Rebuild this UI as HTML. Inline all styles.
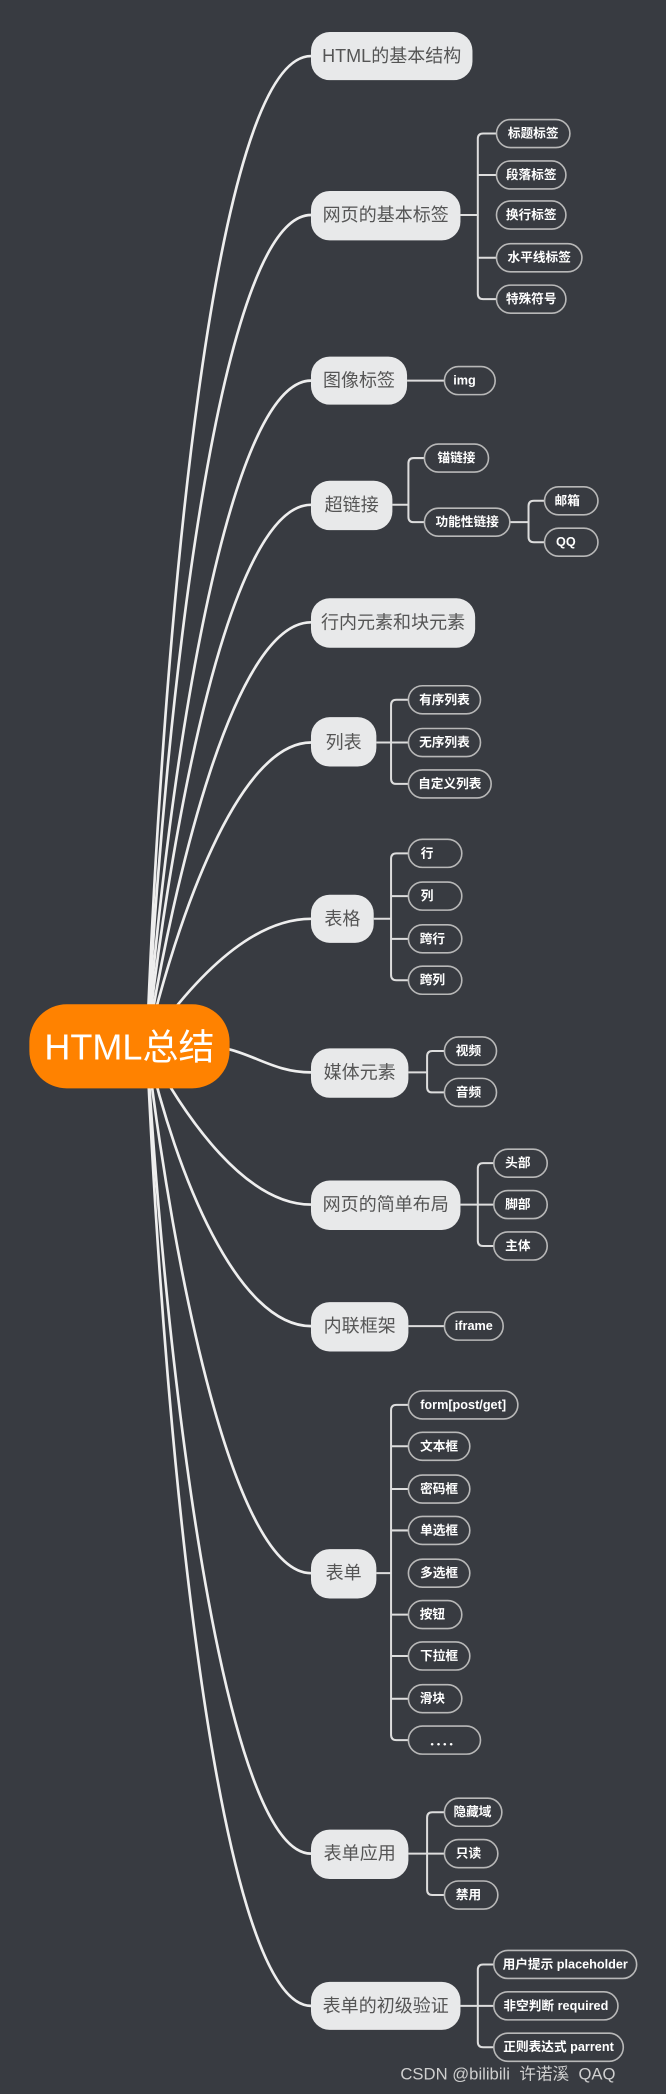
<!DOCTYPE html>
<html><head><meta charset="utf-8"><style>
html,body{margin:0;padding:0;background:#383b41;}
svg{display:block}
text{font-family:"Liberation Sans","Noto Sans CJK SC",sans-serif;}
.m{fill:#e8e9ea}
.mt{fill:#555;font-size:13.5px}
.s{fill:#383b41;stroke:#b8b8b8;stroke-width:1.2}
.st{fill:#fff;font-size:9.5px;font-weight:bold}
.c{fill:none;stroke:#eee;stroke-width:2}
.b{fill:none;stroke:#ddd;stroke-width:1.5}
</style></head><body>
<svg width="666" height="2094" viewBox="0 0 499 1568" preserveAspectRatio="none" xmlns="http://www.w3.org/2000/svg">
<rect width="499" height="1568" fill="#383b41"/>
<g class="c">
<path d="M110 783 C122 470,160 42,233 42"/>
<path d="M110 783 C124 520,165 161,233 161"/>
<path d="M110 783 C126 580,170 285,233 285"/>
<path d="M110 783 C128 620,172 378,233 378"/>
<path d="M110 783 C130 660,175 466,233 466"/>
<path d="M110 783 C132 690,178 556,233 556"/>
<path d="M110 783 C140 740,185 688,233 688"/>
<path d="M150 783 C185 783,200 803,233 803"/>
<path d="M110 783 C140 840,185 902,233 902"/>
<path d="M110 783 C132 880,178 993,233 993"/>
<path d="M110 783 C130 950,175 1178,233 1178"/>
<path d="M110 783 C126 1050,170 1388,233 1388"/>
<path d="M110 783 C124 1100,165 1502,233 1502"/>
</g>
<g class="b">
<path d="M345 161 H358 M372 100 H362 Q358 100 358 104 V220 Q358 224 362 224 H372 M358 131 H372 M358 193 H372"/>
<path d="M305 285 H333"/>
<path d="M294 378 H306 M318 343 H310 Q306 343 306 347 V387 Q306 391 310 391 H318"/>
<path d="M382 391 H396 M408 375 H400 Q396 375 396 379 V402 Q396 406 400 406 H408"/>
<path d="M282 556 H293 M306 524 H297 Q293 524 293 528 V583 Q293 587 297 587 H306 M293 556 H306"/>
<path d="M280 688 H293 M306 639 H297 Q293 639 293 643 V730 Q293 734 297 734 H306 M293 671 H306 M293 703 H306"/>
<path d="M306 803 H320 M333 787 H324 Q320 787 320 791 V814 Q320 818 324 818 H333"/>
<path d="M345 902 H358 M370 871 H362 Q358 871 358 875 V929 Q358 933 362 933 H370 M358 902 H370"/>
<path d="M306 993 H333"/>
<path d="M282 1178 H293 M306 1052 H297 Q293 1052 293 1056 V1299 Q293 1303 297 1303 H306 M293 1083 H306 M293 1115 H306 M293 1146 H306 M293 1209 H306 M293 1240 H306 M293 1272 H306"/>
<path d="M306 1388 H320 M333 1357 H324 Q320 1357 320 1361 V1415 Q320 1419 324 1419 H333 M320 1388 H333"/>
<path d="M345 1502 H358 M370 1471 H362 Q358 1471 358 1475 V1529 Q358 1533 362 1533 H370 M358 1502 H370"/>
</g>
<rect x="22" y="752" width="150" height="63" rx="28" fill="#ff8200"/>
<text x="97" y="784" text-anchor="middle" dominant-baseline="central" fill="#fff" style="font-size:27px">HTML总结</text>
<g>
<rect class="m" x="233" y="24" width="121" height="36" rx="14"/><text class="mt" x="293.5" y="42" text-anchor="middle" dominant-baseline="central">HTML的基本结构</text>
<rect class="m" x="233" y="143" width="112" height="37" rx="14"/><text class="mt" x="289" y="161" text-anchor="middle" dominant-baseline="central">网页的基本标签</text>
<rect class="m" x="233" y="267" width="72" height="36" rx="14"/><text class="mt" x="269" y="285" text-anchor="middle" dominant-baseline="central">图像标签</text>
<rect class="m" x="233" y="360" width="61" height="37" rx="14"/><text class="mt" x="263.5" y="378" text-anchor="middle" dominant-baseline="central">超链接</text>
<rect class="m" x="233" y="448" width="123" height="37" rx="14"/><text class="mt" x="294.5" y="466" text-anchor="middle" dominant-baseline="central">行内元素和块元素</text>
<rect class="m" x="233" y="537" width="49" height="37" rx="14"/><text class="mt" x="257.5" y="556" text-anchor="middle" dominant-baseline="central">列表</text>
<rect class="m" x="233" y="670" width="47" height="36" rx="14"/><text class="mt" x="256.5" y="688" text-anchor="middle" dominant-baseline="central">表格</text>
<rect class="m" x="233" y="785" width="73" height="37" rx="14"/><text class="mt" x="269.5" y="803" text-anchor="middle" dominant-baseline="central">媒体元素</text>
<rect class="m" x="233" y="884" width="112" height="37" rx="14"/><text class="mt" x="289" y="902" text-anchor="middle" dominant-baseline="central">网页的简单布局</text>
<rect class="m" x="233" y="975" width="73" height="37" rx="14"/><text class="mt" x="269.5" y="993" text-anchor="middle" dominant-baseline="central">内联框架</text>
<rect class="m" x="233" y="1160" width="49" height="37" rx="14"/><text class="mt" x="257.5" y="1178" text-anchor="middle" dominant-baseline="central">表单</text>
<rect class="m" x="233" y="1370" width="73" height="37" rx="14"/><text class="mt" x="269.5" y="1388" text-anchor="middle" dominant-baseline="central">表单应用</text>
<rect class="m" x="233" y="1484" width="112" height="36" rx="14"/><text class="mt" x="289" y="1502" text-anchor="middle" dominant-baseline="central">表单的初级验证</text>
</g>
<g>
<rect class="s" x="372" y="89.5" width="55" height="21" rx="10.5"/><text class="st" x="399.5" y="100" text-anchor="middle" dominant-baseline="central">标题标签</text>
<rect class="s" x="372" y="120.5" width="52" height="21" rx="10.5"/><text class="st" x="398" y="131" text-anchor="middle" dominant-baseline="central">段落标签</text>
<rect class="s" x="372" y="150.5" width="52" height="21" rx="10.5"/><text class="st" x="398" y="161" text-anchor="middle" dominant-baseline="central">换行标签</text>
<rect class="s" x="372" y="182.5" width="64" height="21" rx="10.5"/><text class="st" x="404" y="193" text-anchor="middle" dominant-baseline="central">水平线标签</text>
<rect class="s" x="372" y="213.5" width="52" height="21" rx="10.5"/><text class="st" x="398" y="224" text-anchor="middle" dominant-baseline="central">特殊符号</text>
<rect class="s" x="333" y="274.5" width="38" height="21" rx="10.5"/><text class="st" x="348" y="285" text-anchor="middle" dominant-baseline="central">img</text>
<rect class="s" x="318" y="332.5" width="48" height="21" rx="10.5"/><text class="st" x="342" y="343" text-anchor="middle" dominant-baseline="central">锚链接</text>
<rect class="s" x="318" y="380.5" width="64" height="21" rx="10.5"/><text class="st" x="350" y="391" text-anchor="middle" dominant-baseline="central">功能性链接</text>
<rect class="s" x="408" y="364.5" width="40" height="21" rx="10.5"/><text class="st" x="425" y="375" text-anchor="middle" dominant-baseline="central">邮箱</text>
<rect class="s" x="408" y="395.5" width="40" height="21" rx="10.5"/><text class="st" x="424" y="406" text-anchor="middle" dominant-baseline="central">QQ</text>
<rect class="s" x="306" y="513.5" width="54" height="21" rx="10.5"/><text class="st" x="333" y="524" text-anchor="middle" dominant-baseline="central">有序列表</text>
<rect class="s" x="306" y="545.5" width="54" height="21" rx="10.5"/><text class="st" x="333" y="556" text-anchor="middle" dominant-baseline="central">无序列表</text>
<rect class="s" x="306" y="576.5" width="62" height="21" rx="10.5"/><text class="st" x="337" y="587" text-anchor="middle" dominant-baseline="central">自定义列表</text>
<rect class="s" x="306" y="628.5" width="40" height="21" rx="10.5"/><text class="st" x="320" y="639" text-anchor="middle" dominant-baseline="central">行</text>
<rect class="s" x="306" y="660.5" width="40" height="21" rx="10.5"/><text class="st" x="320" y="671" text-anchor="middle" dominant-baseline="central">列</text>
<rect class="s" x="306" y="692.5" width="40" height="21" rx="10.5"/><text class="st" x="324" y="703" text-anchor="middle" dominant-baseline="central">跨行</text>
<rect class="s" x="306" y="723.5" width="40" height="21" rx="10.5"/><text class="st" x="324" y="734" text-anchor="middle" dominant-baseline="central">跨列</text>
<rect class="s" x="333" y="776.5" width="39" height="21" rx="10.5"/><text class="st" x="351" y="787" text-anchor="middle" dominant-baseline="central">视频</text>
<rect class="s" x="333" y="807.5" width="39" height="21" rx="10.5"/><text class="st" x="351" y="818" text-anchor="middle" dominant-baseline="central">音频</text>
<rect class="s" x="370" y="860.5" width="40" height="21" rx="10.5"/><text class="st" x="388" y="871" text-anchor="middle" dominant-baseline="central">头部</text>
<rect class="s" x="370" y="891.5" width="40" height="21" rx="10.5"/><text class="st" x="388" y="902" text-anchor="middle" dominant-baseline="central">脚部</text>
<rect class="s" x="370" y="922.5" width="40" height="21" rx="10.5"/><text class="st" x="388" y="933" text-anchor="middle" dominant-baseline="central">主体</text>
<rect class="s" x="333" y="982.5" width="44" height="21" rx="10.5"/><text class="st" x="355" y="993" text-anchor="middle" dominant-baseline="central">iframe</text>
<rect class="s" x="306" y="1041.5" width="82" height="21" rx="10.5"/><text class="st" x="347" y="1052" text-anchor="middle" dominant-baseline="central">form[post/get]</text>
<rect class="s" x="306" y="1072.5" width="46" height="21" rx="10.5"/><text class="st" x="329" y="1083" text-anchor="middle" dominant-baseline="central">文本框</text>
<rect class="s" x="306" y="1104.5" width="46" height="21" rx="10.5"/><text class="st" x="329" y="1115" text-anchor="middle" dominant-baseline="central">密码框</text>
<rect class="s" x="306" y="1135.5" width="46" height="21" rx="10.5"/><text class="st" x="329" y="1146" text-anchor="middle" dominant-baseline="central">单选框</text>
<rect class="s" x="306" y="1167.5" width="46" height="21" rx="10.5"/><text class="st" x="329" y="1178" text-anchor="middle" dominant-baseline="central">多选框</text>
<rect class="s" x="306" y="1198.5" width="40" height="21" rx="10.5"/><text class="st" x="324" y="1209" text-anchor="middle" dominant-baseline="central">按钮</text>
<rect class="s" x="306" y="1229.5" width="46" height="21" rx="10.5"/><text class="st" x="329" y="1240" text-anchor="middle" dominant-baseline="central">下拉框</text>
<rect class="s" x="306" y="1261.5" width="40" height="21" rx="10.5"/><text class="st" x="324" y="1272" text-anchor="middle" dominant-baseline="central">滑块</text>
<rect class="s" x="306" y="1292.5" width="54" height="21" rx="10.5"/><text class="st" x="333" y="1304" text-anchor="middle" dominant-baseline="central">．．．．</text>
<rect class="s" x="333" y="1346.5" width="43" height="21" rx="10.5"/><text class="st" x="354" y="1357" text-anchor="middle" dominant-baseline="central">隐藏域</text>
<rect class="s" x="333" y="1377.5" width="40" height="21" rx="10.5"/><text class="st" x="351" y="1388" text-anchor="middle" dominant-baseline="central">只读</text>
<rect class="s" x="333" y="1408.5" width="40" height="21" rx="10.5"/><text class="st" x="351" y="1419" text-anchor="middle" dominant-baseline="central">禁用</text>
<rect class="s" x="370" y="1460.5" width="107" height="21" rx="10.5"/><text class="st" x="423.5" y="1471" text-anchor="middle" dominant-baseline="central">用户提示 placeholder</text>
<rect class="s" x="370" y="1491.5" width="93" height="21" rx="10.5"/><text class="st" x="416.5" y="1502" text-anchor="middle" dominant-baseline="central">非空判断 required</text>
<rect class="s" x="370" y="1522.5" width="97" height="21" rx="10.5"/><text class="st" x="418.5" y="1533" text-anchor="middle" dominant-baseline="central">正则表达式 parrent</text>
</g>
<text x="300" y="1553" dominant-baseline="central" fill="#cfcfcf" style="font-size:12.5px;white-space:pre" xml:space="preserve">CSDN @bilibili  许诺溪  QAQ</text>
</svg>
</body></html>
